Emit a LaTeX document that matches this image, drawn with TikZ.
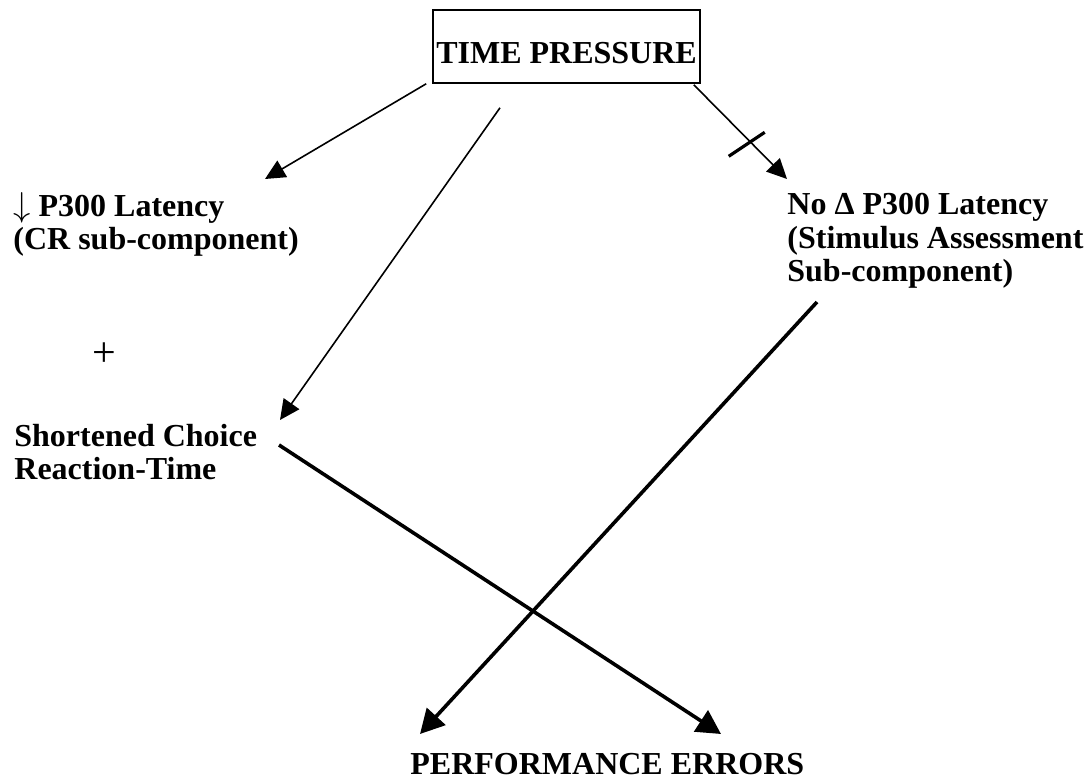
\documentclass[tikz,border=0pt]{standalone}
\usepackage{fontspec}
\setmainfont{Liberation Serif}
\usetikzlibrary{arrows.meta}

\begin{document}
\begin{tikzpicture}[x=0.5pt, y=-0.5pt,
    lbl/.style={font=\bfseries\fontsize{16}{16.75}\selectfont, align=left, inner sep=0pt, anchor=base west},
    tpbox/.style={draw, line width=0.8pt, font=\bfseries\fontsize{16}{16.75}\selectfont, inner sep=0pt, text height=27pt, text depth=9.5pt, minimum width=133.5pt},
    thinarr/.style={line width=0.8pt, -{Triangle[length=10pt, width=9.5pt]}},
    thickarr/.style={line width=1.8pt, -{Triangle[length=12pt, width=12.5pt]}}]
    \useasboundingbox (0,0) rectangle (1087,779);

    % Nodes
    \node[tpbox] (tp) at (566.5,46.5) {TIME PRESSURE};
    \node[lbl] (lat) at (13,250) {$\downarrow$ P300 Latency\\(CR sub-component)};
    \node[lbl] (nolat) at (787,282) {No Δ P300 Latency\\(Stimulus Assessment\\Sub-component)};
    \node[font=\fontsize{21}{21}\selectfont, inner sep=0pt] (plus) at (104,355) {+};
    \node[lbl] (choice) at (14,480) {Shortened Choice\\Reaction-Time};
    \node[lbl] (perf) at (410,775) {PERFORMANCE ERRORS};

    % Arrows
    \draw[thinarr] ([shift={(-6,0)}]tp.south west) -- ([shift={(252,-71)}]lat.base west);
    \draw[thinarr] ([shift={(-66.5,24)}]tp.south) -- ([shift={(266,-60)}]choice.base west);
    \draw[thinarr] ([shift={(-7,1)}]tp.south east) -- coordinate[pos=0.6] (blk) ([shift={(0,-103)}]nolat.base west);
    \draw[line width=1.6pt] ([shift={(-21,15)}]blk) -- ([shift={(15,-9)}]blk);
    \draw[thickarr] ([shift={(30,20)}]nolat.base west) -- ([shift={(10,-41)}]perf.base west);
    \draw[thickarr] ([shift={(265,-35)}]choice.base west) -- ([shift={(311,-41)}]perf.base west);
\end{tikzpicture}
\end{document}
